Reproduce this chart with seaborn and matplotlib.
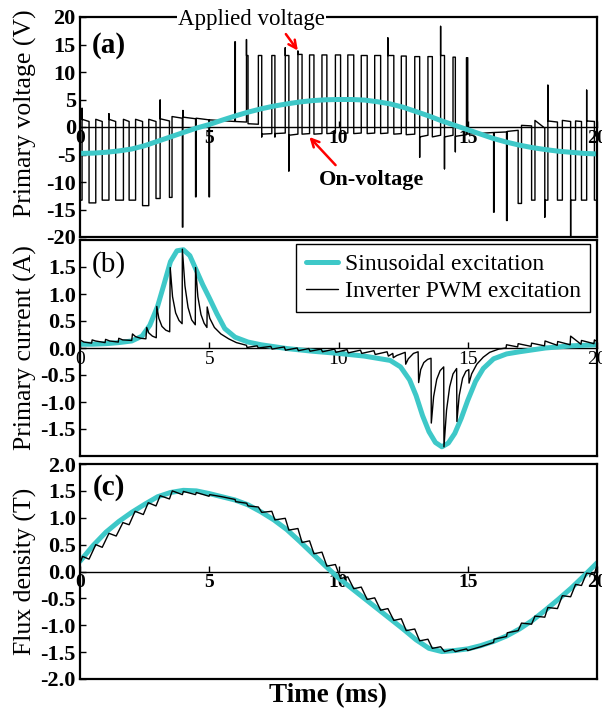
import matplotlib
matplotlib.use("Agg")
import matplotlib.pyplot as plt
import seaborn as sns
import numpy as np

sns.set_theme(style="white", rc={
    "text.color": "black", "axes.labelcolor": "black",
    "xtick.color": "black", "ytick.color": "black",
    "axes.edgecolor": "black",
})
plt.rcParams['font.family'] = ['Liberation Serif', 'DejaVu Serif']
plt.rcParams['axes.unicode_minus'] = False

CYAN = "#3ec8c8"

# ---------------- (a) primary voltage ----------------
vs_t = [0, 0.5, 1, 1.5, 2, 2.5, 3, 3.5, 4, 4.5, 5, 5.5, 6, 6.5, 7, 7.5, 8, 8.5, 9, 9.5,
        10, 10.5, 11, 11.5, 12, 12.5, 13, 13.5, 14, 14.5, 15, 15.5, 16, 16.5, 17, 17.5,
        18, 18.5, 19, 19.5, 20]
vs = [-4.8, -4.75, -4.6, -4.35, -4.0, -3.4, -2.6, -1.8, -1.0, -0.2, 0.45, 1.25, 2.0, 2.7,
      3.3, 3.8, 4.2, 4.55, 4.8, 4.95, 5.0, 5.0, 4.9, 4.6, 4.2, 3.6, 2.8, 2.0, 1.1, 0.3,
      -0.5, -1.3, -2.1, -2.75, -3.3, -3.75, -4.1, -4.4, -4.6, -4.8, -4.9]

# inverter PWM voltage: pulses (on edge, off edge, level), gap levels after each pulse
pulse_on = [0.00, 0.35, 0.86, 1.38, 1.90, 2.42, 2.94, 3.46, 3.96, 4.47, 4.99,
            5.99, 6.44, 6.90, 7.42, 7.94, 8.43, 8.88, 9.36, 9.88, 10.36, 10.88, 11.40,
            11.91, 12.43, 12.95, 13.46, 13.95, 14.43, 14.95,
            16.00, 16.50, 16.95, 17.47, 17.98, 18.47, 18.98, 19.40, 19.90]
pulse_off = [0.08, 0.61, 1.12, 1.68, 2.15, 2.66, 3.10, 3.56, 3.98, 4.49, 5.01,
             6.01, 6.50, 7.03, 7.54, 8.08, 8.59, 9.05, 9.55, 10.08, 10.59, 11.11, 11.63,
             12.14, 12.62, 13.14, 13.63, 14.10, 14.52, 15.00,
             16.02, 16.53, 17.08, 17.60, 18.10, 18.66, 19.17, 19.60, 20.00]
pulse_lvl = [-13.3, -13.8, -13.3, -13.3, -13.3, -14.3, -13.0, -12.8, -18.2, -12.7, -12.7,
             15.5, 13.0, 13.0, 13.0, 13.0, 13.2, 13.1, 13.1, 13.1, 13.1, 13.0, 13.0,
             13.0, 12.9, 12.8, 12.8, 13.0, 12.7, 12.6,
             -15.5, -17.0, -13.9, -13.3, -13.3, -13.3, -13.3, -13.3, -13.3]
spike_on = [None, None, None, None, None, None, None, None, None, None, None,
            None, 15.9, None, None, 14.4, 13.8, None, None, None, None, None, None,
            16.2, None, None, None, 18.3, None, None,
            None, None, None, None, -16.4, None, -20.5, None, None]
spike_off = [3.4, None, 2.4, None, None, None, 4.9, None, 3.0, None, None,
             None, None, -1.8, -1.8, -8.0, None, None, None, None, None, None, None,
             None, None, -5.5, None, -7.6, -4.5, None,
             None, None, None, None, 7.6, None, None, 6.7, None]
gap_a = [1.4, 1.4, 1.4, 1.4, 1.4, 1.4, 1.5, 1.9, 1.8, 1.6, 1.3,
         1.0, 0.6, -1.3, -1.2, -1.5, -1.3, -1.3, -1.2, -1.2, -1.2, -1.2, -1.2,
         -1.3, -1.4, -1.8, -1.8, -1.8, -1.7, -1.3,
         -1.0, -0.8, 0.3, 1.2, 1.1, 1.2, 1.1, 1.1, -13.3]
gap_b = [1.0, 1.0, 1.0, 1.0, 1.0, 1.0, 1.1, 1.6, 1.5, 1.3, 1.0,
         0.9, 0.5, -1.2, -1.1, -1.3, -1.2, -1.2, -1.1, -1.1, -1.1, -1.1, -1.1,
         -1.2, -1.3, -1.5, -1.5, -1.5, -1.4, -1.0,
         -0.9, -0.6, 0.2, -0.2, 0.9, 1.0, 1.0, 1.0, -13.3]

# ---------------- (b) primary current ----------------
is_t = [0, 0.5, 1, 1.5, 2, 2.4, 2.7, 3.0, 3.25, 3.5, 3.75, 4.0, 4.25, 4.5, 4.75, 5.0, 5.3,
        5.6, 6.0, 6.5, 7, 8, 9, 10, 11, 12, 12.4, 12.75, 13.0, 13.25, 13.5, 13.75, 14.0,
        14.25, 14.5, 14.75, 15.0, 15.3, 15.6, 16.0, 16.5, 17, 18, 19, 20]
i_sin = [0.07, 0.07, 0.08, 0.10, 0.13, 0.22, 0.42, 0.77, 1.18, 1.60, 1.80, 1.82, 1.71,
         1.44, 1.17, 0.93, 0.63, 0.36, 0.20, 0.11, 0.06, -0.01, -0.06, -0.10, -0.15,
         -0.23, -0.35, -0.59, -0.88, -1.25, -1.55, -1.75, -1.83, -1.76, -1.58, -1.30,
         -0.97, -0.62, -0.38, -0.20, -0.11, -0.07, 0.0, 0.04, 0.06]

ip_t = [0.00, 0.15, 0.45, 0.47, 0.60, 0.97, 0.99, 1.15, 1.48, 1.50, 1.65, 2.00, 2.03,
        2.15, 2.35, 2.55, 2.58, 2.66, 2.80, 2.95, 2.97, 3.05, 3.17, 3.32, 3.47, 3.49,
        3.58, 3.70, 3.83, 3.95, 3.96, 4.06, 4.18, 4.32, 4.46, 4.47, 4.56, 4.68, 4.80,
        4.91, 4.92, 5.02, 5.20, 5.45, 5.75, 6.05, 6.44, 6.46, 6.85, 6.90, 7.38, 7.43,
        7.90, 7.95, 8.40, 8.45, 8.85, 8.90, 9.33, 9.38, 9.85, 9.90, 10.33, 10.38, 10.85,
        10.90, 11.37, 11.42, 11.88, 11.93, 12.10, 12.12, 12.25, 12.58, 12.60, 12.70,
        12.90, 13.08, 13.10, 13.18, 13.30, 13.45, 13.58, 13.59, 13.68, 13.80, 13.93,
        14.07, 14.08, 14.18, 14.30, 14.43, 14.57, 14.58, 14.67, 14.80, 14.93, 15.04,
        15.05, 15.15, 15.35, 15.60, 15.85, 16.20, 16.48, 16.50, 16.93, 16.95, 17.45,
        17.47, 17.97, 17.99, 18.46, 18.48, 18.96, 18.98, 19.38, 19.40, 19.88, 19.90, 20.00]
i_pwm = [0.15, 0.11, 0.09, 0.15, 0.13, 0.10, 0.16, 0.13, 0.11, 0.18, 0.15, 0.14, 0.26,
         0.21, 0.18, 0.17, 0.38, 0.28, 0.22, 0.19, 0.77, 0.55, 0.40, 0.33, 0.30, 1.49,
         0.95, 0.65, 0.51, 0.45, 1.83, 1.15, 0.75, 0.52, 0.43, 1.49, 0.95, 0.62, 0.46,
         0.38, 0.76, 0.55, 0.38, 0.26, 0.17, 0.10, 0.05, 0.01, 0.04, 0.00, 0.03, -0.02,
         0.02, -0.04, 0.00, -0.05, -0.01, -0.06, -0.02, -0.07, -0.02, -0.08, -0.03, -0.09,
         -0.04, -0.10, -0.05, -0.12, -0.07, -0.15, -0.10, -0.18, -0.14, -0.08, -0.30,
         -0.20, -0.10, -0.07, -0.64, -0.40, -0.27, -0.21, -0.19, -1.39, -0.90, -0.58,
         -0.42, -0.35, -1.83, -1.15, -0.72, -0.48, -0.38, -1.36, -0.88, -0.56, -0.43,
         -0.40, -0.65, -0.48, -0.30, -0.17, -0.08, -0.02, 0.00, 0.06, 0.02, 0.08, 0.03,
         0.09, 0.04, 0.13, 0.05, 0.12, 0.06, 0.22, 0.07, 0.14, 0.08, 0.15, 0.12]

# ---------------- (c) flux density ----------------
bs_t = [0, 0.5, 1, 1.5, 2, 2.5, 3, 3.5, 4, 4.5, 5, 5.5, 6, 6.5, 7, 7.5, 8, 8.5, 9, 9.5,
        10, 10.5, 11, 11.5, 12, 12.5, 13, 13.5, 14, 14.5, 15, 15.5, 16, 16.5, 17, 17.5,
        18, 18.5, 19, 19.5, 20]
b_sin = [0.19, 0.48, 0.73, 0.93, 1.10, 1.25, 1.39, 1.47, 1.51, 1.50, 1.45, 1.39, 1.33,
         1.24, 1.11, 0.96, 0.78, 0.56, 0.33, 0.10, -0.12, -0.31, -0.50, -0.69, -0.88,
         -1.07, -1.27, -1.43, -1.49, -1.47, -1.44, -1.38, -1.30, -1.20, -1.07, -0.91,
         -0.72, -0.52, -0.31, -0.08, 0.16]

bp_t = [0.00, 0.10, 0.35, 0.61, 0.86, 1.12, 1.40, 1.66, 1.90, 2.13, 2.45, 2.64, 2.94,
        3.10, 3.46, 3.57, 3.96, 4.00, 4.47, 4.50, 4.99, 5.02, 5.50, 6.00, 6.02, 6.45,
        6.50, 6.90, 7.03, 7.42, 7.54, 7.94, 8.08, 8.43, 8.59, 8.88, 9.05, 9.36, 9.55,
        9.88, 10.08, 10.36, 10.59, 10.88, 11.11, 11.40, 11.63, 11.91, 12.14, 12.43,
        12.62, 12.95, 13.14, 13.46, 13.63, 13.95, 14.10, 14.43, 14.52, 14.95, 15.00,
        15.50, 16.00, 16.02, 16.50, 16.53, 16.95, 17.08, 17.47, 17.60, 17.98, 18.10,
        18.47, 18.66, 18.98, 19.17, 19.40, 19.60, 19.90, 20.00]
b_pwm = [0.16, 0.28, 0.23, 0.50, 0.45, 0.71, 0.66, 0.91, 0.87, 1.12, 1.06, 1.28, 1.22,
         1.41, 1.35, 1.50, 1.43, 1.49, 1.43, 1.47, 1.40, 1.43, 1.39, 1.34, 1.30, 1.27,
         1.22, 1.20, 1.10, 1.12, 0.96, 0.99, 0.77, 0.80, 0.54, 0.57, 0.33, 0.36, 0.10,
         0.13, -0.13, -0.10, -0.32, -0.29, -0.52, -0.49, -0.72, -0.69, -0.91, -0.88,
         -1.10, -1.07, -1.29, -1.26, -1.43, -1.40, -1.49, -1.45, -1.49, -1.44, -1.47,
         -1.40, -1.32, -1.26, -1.21, -1.14, -1.10, -0.96, -0.98, -0.83, -0.85, -0.67,
         -0.69, -0.45, -0.47, -0.24, -0.26, -0.03, -0.05, 0.12]

x_ticks = [0, 5, 10, 15, 20]

# ---------------- build PWM voltage path ----------------
vt, vv = [], []
for k in range(len(pulse_on)):
    if k > 0:
        vt.append(pulse_on[k]); vv.append(gap_b[k - 1])
    if spike_on[k] is not None:
        vt.append(pulse_on[k]); vv.append(spike_on[k])
    vt.append(pulse_on[k]); vv.append(pulse_lvl[k])
    vt.append(pulse_off[k]); vv.append(pulse_lvl[k])
    if spike_off[k] is not None:
        vt.append(pulse_off[k]); vv.append(spike_off[k])
    vt.append(pulse_off[k]); vv.append(gap_a[k])

# ---------------- figure ----------------
fig = plt.figure(figsize=(6.02, 7.15), dpi=100)
L, W = 80 / 602, 517 / 602
axA = fig.add_axes([L, 1 - 237 / 715, W, 220 / 715])
axB = fig.add_axes([L, 1 - 456 / 715, W, 216 / 715])
axC = fig.add_axes([L, 1 - 679 / 715, W, 215 / 715])

TICK_FS = 16
LAB_FS = 18.5


def style(ax, ylim, yticks, ylabels, ylabel, label_y, xbold):
    ax.set_xlim(0, 20)
    ax.set_ylim(*ylim)
    ax.set_xticks([])
    ax.set_xlabel("")
    ax.set_yticks(yticks)
    ax.set_yticklabels(ylabels, fontsize=TICK_FS, fontweight="bold")
    ax.tick_params(axis="y", direction="in", length=4, width=1, pad=3, left=True)
    for s in ax.spines.values():
        s.set_visible(True)
        s.set_linewidth(1.6)
        s.set_color("black")
    ax.set_ylabel(ylabel, fontsize=LAB_FS)
    ax.yaxis.set_label_coords(-0.083, label_y)
    sec = ax.secondary_xaxis(0.5)
    sec.set_alignment("bottom")
    sec.set_xticks(x_ticks)
    sec.set_xticklabels([str(v) for v in x_ticks], fontsize=14,
                        fontweight="bold" if xbold else "normal")
    sec.tick_params(axis="x", direction="in", length=4, width=1, pad=2)
    sec.spines["bottom"].set_linewidth(1.0)
    sec.spines["bottom"].set_color("black")


# (a)
sns.lineplot(x=vt, y=vv, ax=axA, sort=False, estimator=None, color="black",
             linewidth=1.0, legend=False)
sns.lineplot(x=vs_t, y=vs, ax=axA, sort=False, estimator=None, color=CYAN,
             linewidth=3.6, legend=False)
style(axA, (-20, 20), list(range(-20, 21, 5)),
      [str(v) for v in range(-20, 21, 5)],
      "Primary voltage (V)", 0.565, True)
axA.text(1.12, 14.9, "(a)", fontsize=21, fontweight="bold", ha="center", va="center")
axA.text(6.63, 19.6, "Applied voltage", fontsize=16.5, ha="center", va="center",
         bbox=dict(facecolor="white", edgecolor="none", pad=1.0), zorder=5, clip_on=False)
axA.annotate("", xy=(8.49, 13.5), xytext=(7.9, 17.3),
             arrowprops=dict(arrowstyle="->", color="red", lw=1.8, mutation_scale=14),
             zorder=6)
axA.text(11.28, -9.6, "On-voltage", fontsize=16, fontweight="bold", ha="center",
         va="center", zorder=5)
axA.annotate("", xy=(8.8, -1.45), xytext=(9.96, -7.3),
             arrowprops=dict(arrowstyle="->", color="red", lw=1.8, mutation_scale=14),
             zorder=6)

# (b)
sns.lineplot(x=is_t, y=i_sin, ax=axB, sort=False, estimator=None, color=CYAN,
             linewidth=3.6, label="Sinusoidal excitation")
sns.lineplot(x=ip_t, y=i_pwm, ax=axB, sort=False, estimator=None, color="black",
             linewidth=1.0, label="Inverter PWM excitation")
b_ticks = [1.5, 1.0, 0.5, 0.0, -0.5, -1.0, -1.5]
style(axB, (-2, 2), b_ticks, ["%.1f" % v for v in b_ticks],
      "Primary current (A)", 0.5, False)
axB.text(1.12, 1.54, "(b)", fontsize=21, ha="center", va="center")
leg = axB.legend(loc="upper right", bbox_to_anchor=(0.987, 0.982), borderaxespad=0,
                 fontsize=17, frameon=True, fancybox=False, framealpha=1,
                 edgecolor="black", handlelength=1.35, handletextpad=0.3,
                 labelspacing=0.25, borderpad=0.4)
leg.get_frame().set_linewidth(1.0)

# (c)
sns.lineplot(x=bs_t, y=b_sin, ax=axC, sort=False, estimator=None, color=CYAN,
             linewidth=3.6, legend=False)
sns.lineplot(x=bp_t, y=b_pwm, ax=axC, sort=False, estimator=None, color="black",
             linewidth=1.0, legend=False)
c_ticks = [2.0, 1.5, 1.0, 0.5, 0.0, -0.5, -1.0, -1.5, -2.0]
style(axC, (-2, 2), c_ticks, ["%.1f" % v for v in c_ticks],
      "Flux density (T)", 0.5, True)
axC.text(1.12, 1.56, "(c)", fontsize=21, fontweight="bold", ha="center", va="center")
axC.set_xlabel("Time (ms)", fontsize=19.5, fontweight="bold")
axC.xaxis.set_label_coords(0.48, -0.02)
axC.xaxis.label.set_va("top")

fig.savefig("out.png", dpi=100)
